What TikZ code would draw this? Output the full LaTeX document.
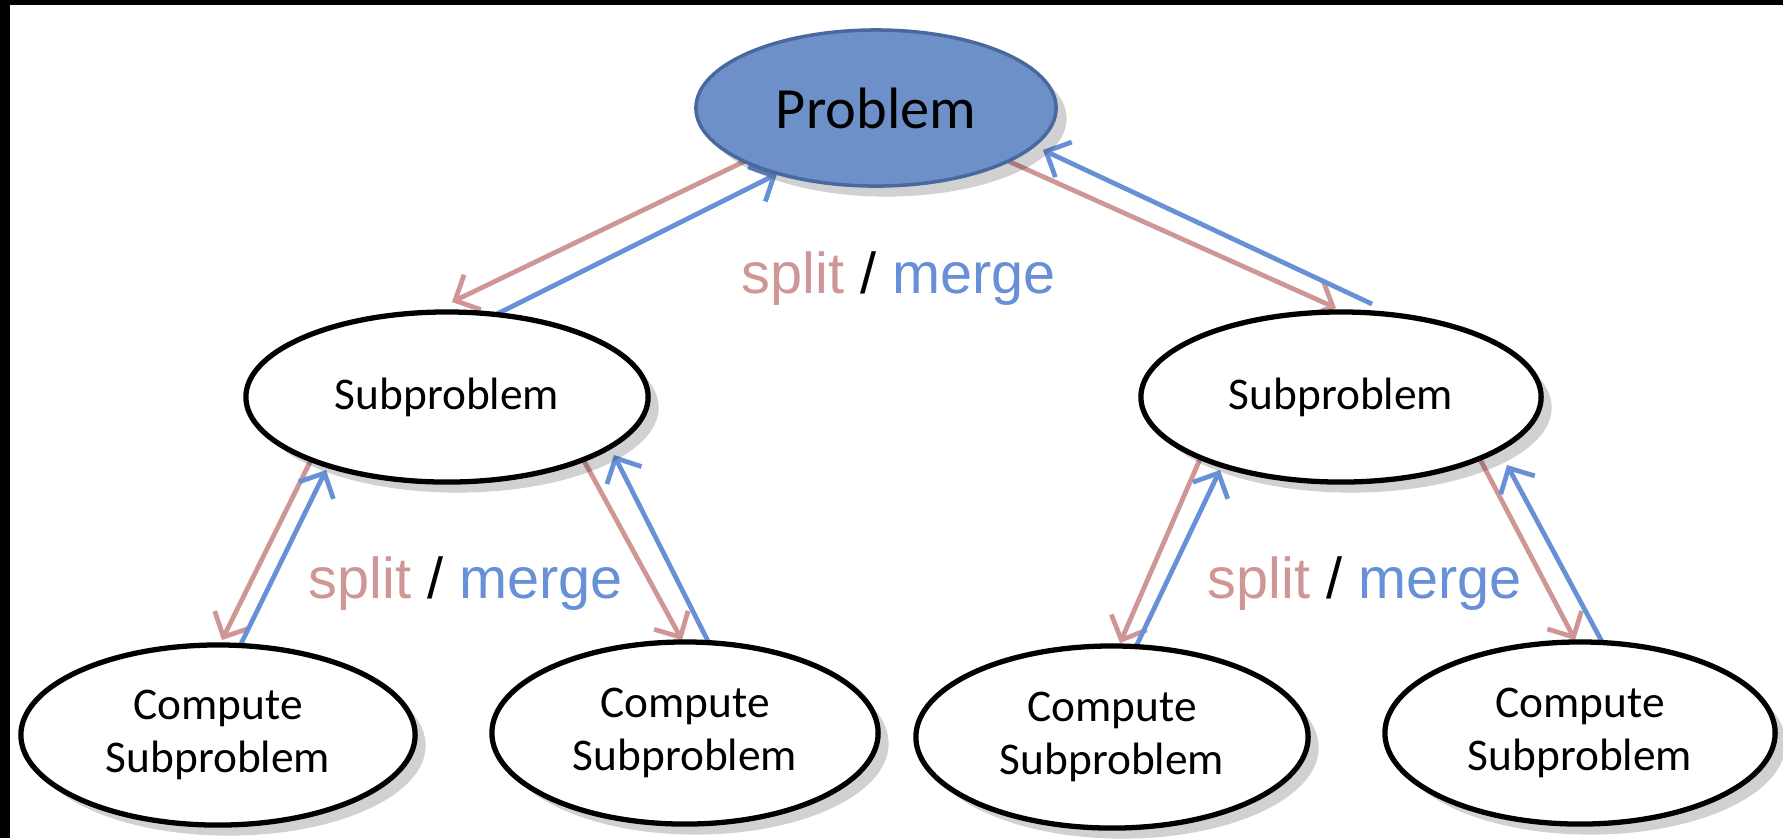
\documentclass[tikz,border=0pt]{standalone}
\usepackage{fontspec}
\setmainfont{Carlito}
\newfontfamily\arialf{Liberation Sans}
\usetikzlibrary{arrows.meta,shapes.geometric,shadows}
\definecolor{splitc}{RGB}{208,150,150}
\definecolor{mergec}{RGB}{104,144,214}
\definecolor{probfill}{RGB}{110,144,200}
\definecolor{probdraw}{RGB}{72,104,158}
\pgfdeclarelayer{background}
\pgfdeclarelayer{canvas}
\pgfsetlayers{canvas,background,main}
\begin{document}
\begin{tikzpicture}[x=0.01cm,y=-0.01cm,
  sh/.style={drop shadow={shadow xshift=3pt,shadow yshift=-3pt,opacity=0.18,fill=black}},
  ell/.style={ellipse, draw=black, line width=1.5pt, fill=white, inner sep=0pt, outer sep=0pt,
    align=center, font=\fontsize{12.9}{15.1}\selectfont, sh},
  probbox/.style={ellipse, draw=probdraw, line width=1pt, fill=probfill, inner sep=0pt, outer sep=0pt,
    font=\fontsize{16.6}{19}\selectfont, sh},
  lbl/.style={anchor=base, inner sep=0pt, font=\arialf\fontsize{16.4}{19}\selectfont},
  splitarrow/.style={draw=splitc, line width=1.35pt, -{Straight Barb[length=5.5pt,width=11pt,line width=1.35pt]}},
  mergearrow/.style={draw=mergec, line width=1.35pt, -{Straight Barb[length=5.5pt,width=11pt,line width=1.35pt]}}
]
\useasboundingbox (0,0) rectangle (1783,838);
\begin{pgfonlayer}{canvas}
\fill[white] (0,0) rectangle (1783,838);
\fill[black] (0,0) rectangle (1783,5);
\fill[black] (0,0) rectangle (10,838);
\end{pgfonlayer}

% nodes
\node[probbox, minimum width=3.60cm, minimum height=1.56cm] (P) at (876,108) {Problem};
\node[ell, minimum width=4.02cm, minimum height=1.70cm] (L) at (447,397) {Subproblem};
\node[ell, minimum width=4.00cm, minimum height=1.70cm] (R) at (1341,397) {Subproblem};
\node[ell, minimum width=3.94cm, minimum height=1.80cm] (C1) at (218,735) {Compute\\Subproblem};
\node[ell, minimum width=3.86cm, minimum height=1.82cm] (C2) at (685,733) {Compute\\Subproblem};
\node[ell, minimum width=3.92cm, minimum height=1.82cm] (C3) at (1112,737) {Compute\\Subproblem};
\node[ell, minimum width=3.90cm, minimum height=1.82cm] (C4) at (1580,733) {Compute\\Subproblem};

% labels
\node[lbl] (lt) at (899,293) {\textcolor{splitc}{split} / \textcolor{mergec}{merge}};
\node[lbl] (ll) at (466,598) {\textcolor{splitc}{split} / \textcolor{mergec}{merge}};
\node[lbl] (lr) at (1365,598) {\textcolor{splitc}{split} / \textcolor{mergec}{merge}};

% connectors
\begin{pgfonlayer}{background}
\draw[splitarrow] ([shift={(-110,43)}]P.center) -- ([shift={(5,-95)}]L.center);
\draw[mergearrow] ([shift={(40,-78)}]L.center) -- ([shift={(-99,66)}]P.center);
\draw[splitarrow] ([shift={(112,44)}]P.center) -- ([shift={(-5,-89)}]R.center);
\draw[mergearrow] ([shift={(31,-93)}]R.center) -- ([shift={(167,42)}]P.center);

\draw[splitarrow] ([shift={(-131,53)}]L.center) -- ([shift={(4,-95)}]C1.center);
\draw[mergearrow] ([shift={(17,-79)}]C1.center) -- ([shift={(-121,73)}]L.center);
\draw[splitarrow] ([shift={(130,51)}]L.center) -- ([shift={(-3,-93)}]C2.center);
\draw[mergearrow] ([shift={(29,-80)}]C2.center) -- ([shift={(167,58)}]L.center);

\draw[splitarrow] ([shift={(-134,46)}]R.center) -- ([shift={(8,-94)}]C3.center);
\draw[mergearrow] ([shift={(19,-80)}]C3.center) -- ([shift={(-121,73)}]R.center);
\draw[splitarrow] ([shift={(131,47)}]R.center) -- ([shift={(-5,-93)}]C4.center);
\draw[mergearrow] ([shift={(27,-82)}]C4.center) -- ([shift={(166,68)}]R.center);
\end{pgfonlayer}
\end{tikzpicture}
\end{document}
